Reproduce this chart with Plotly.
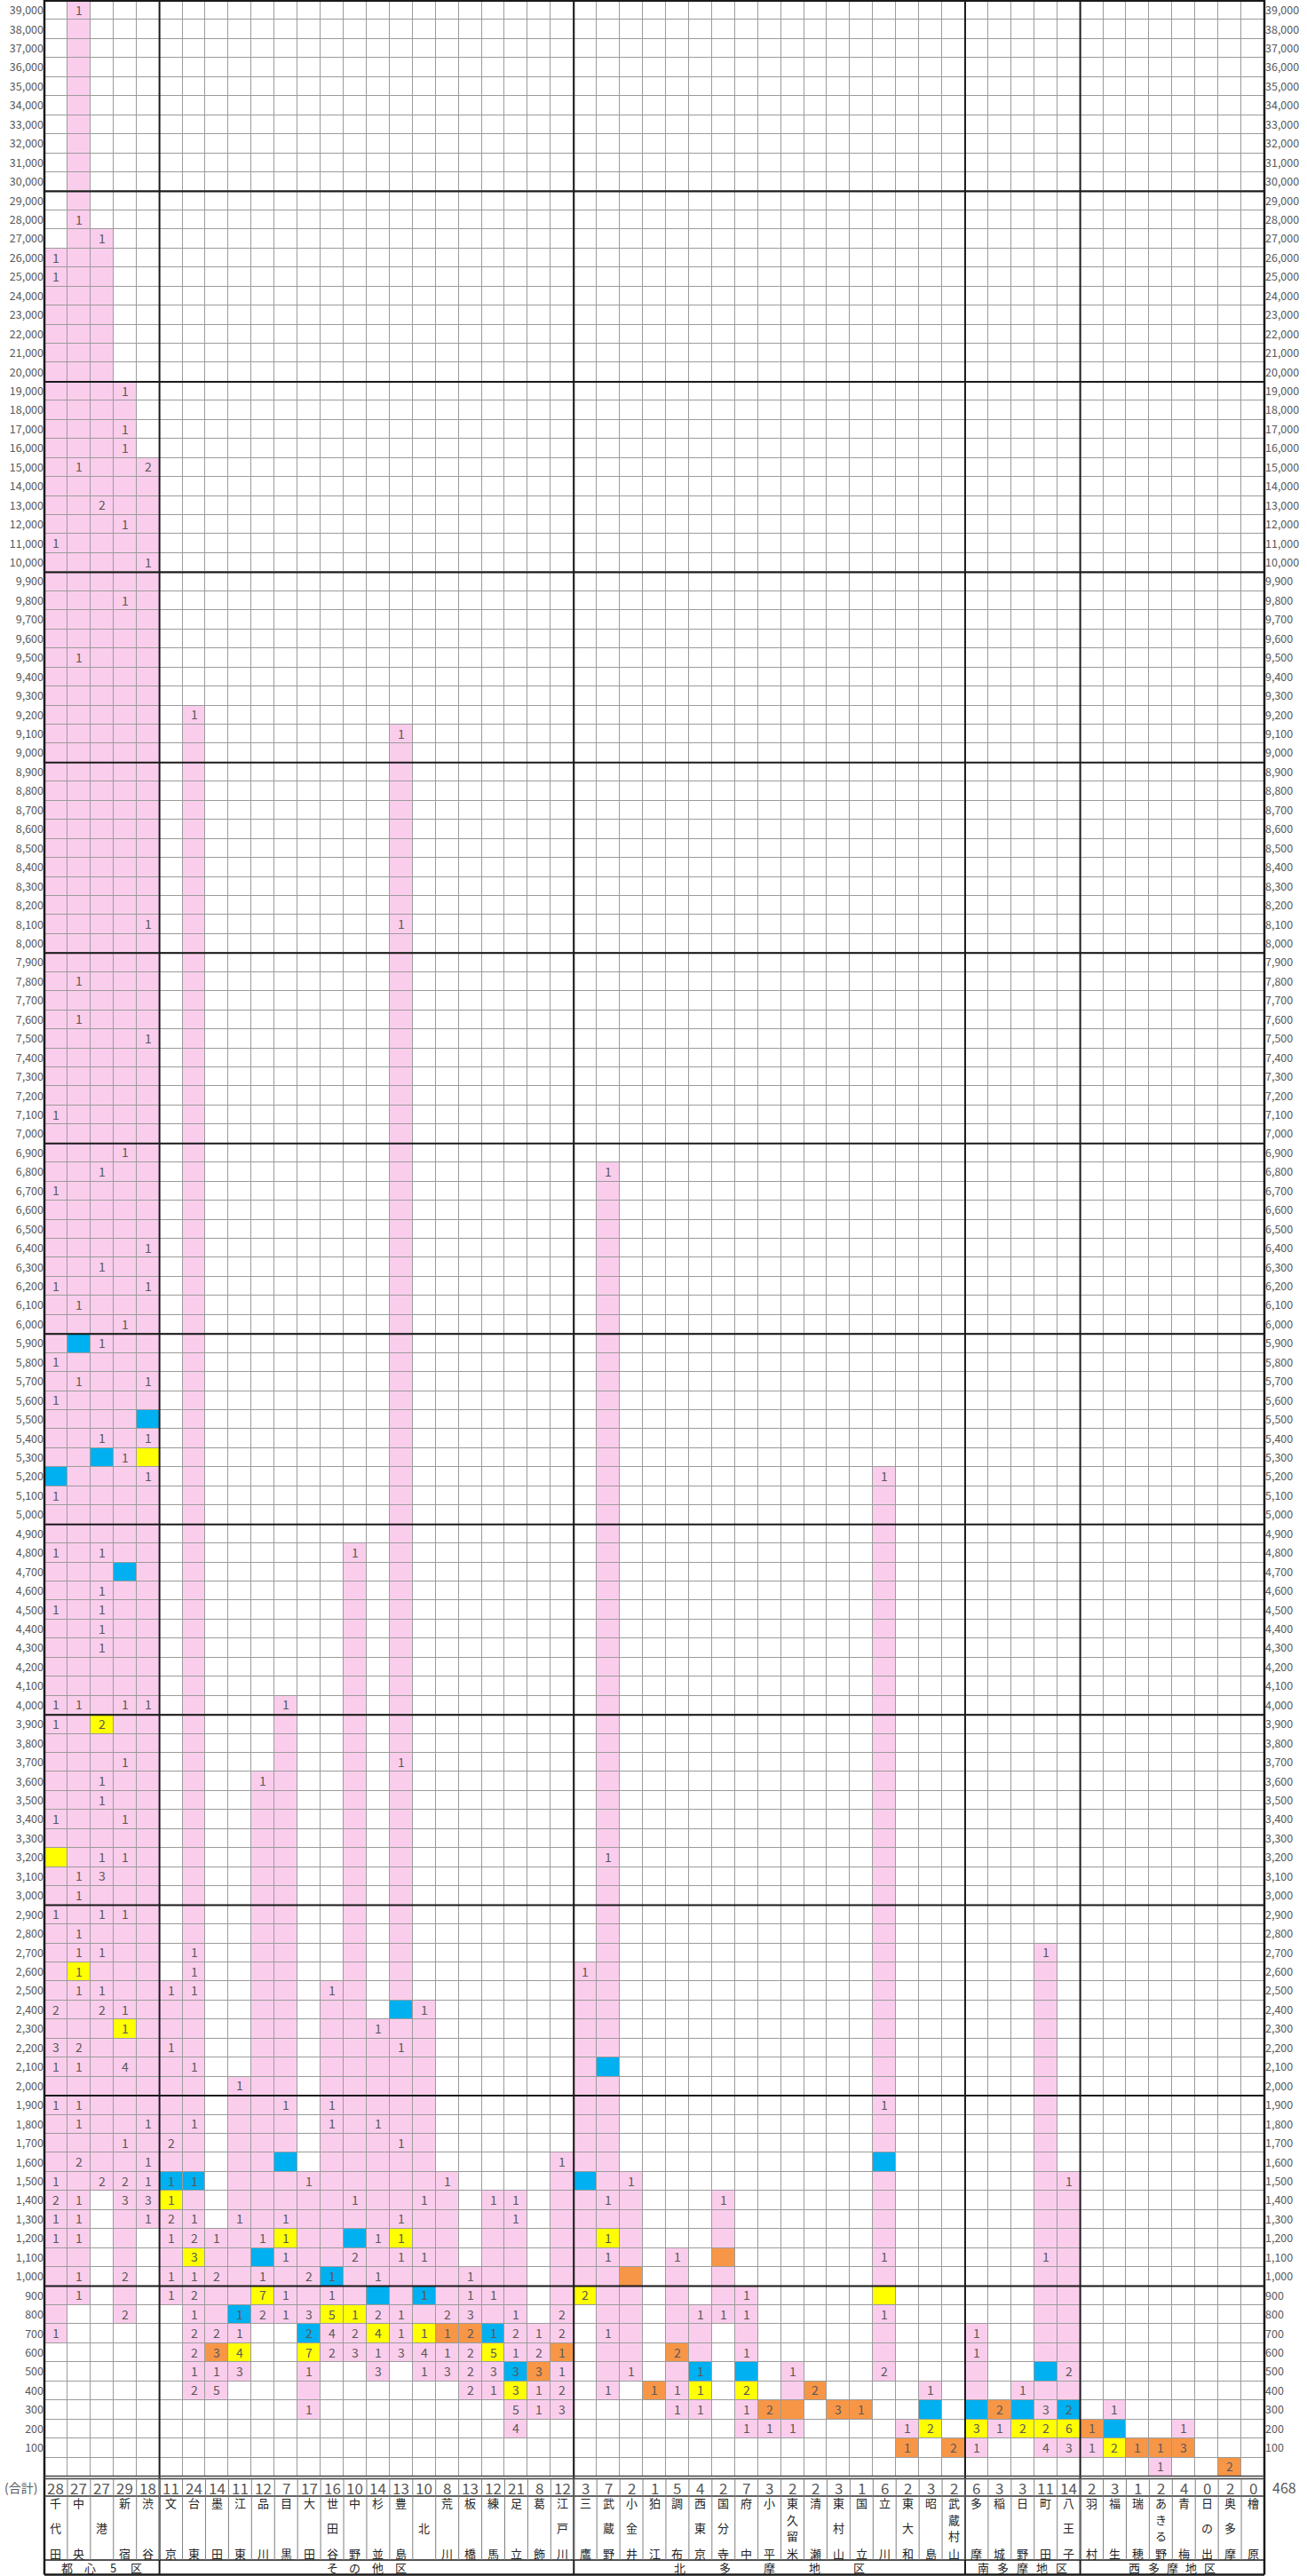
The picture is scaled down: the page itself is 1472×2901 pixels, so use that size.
import plotly.graph_objects as go

# ---------------- data ----------------
names = ["千代田", "中央", "港", "新宿", "渋谷", "文京", "台東", "墨田", "江東", "品川", "目黒",
         "大田", "世田谷", "中野", "杉並", "豊島", "北", "荒川", "板橋", "練馬", "足立", "葛飾",
         "江戸川", "三鷹", "武蔵野", "小金井", "狛江", "調布", "西東京", "国分寺", "府中", "小平",
         "東久留米", "清瀬", "東村山", "国立", "立川", "東大和", "昭島", "武蔵村山", "多摩", "稲城",
         "日野", "町田", "八王子", "羽村", "福生", "瑞穂", "あきる野", "青梅", "日の出", "奥多摩", "檜原"]

groups = [("都心5区", 0, 4), ("その他区", 5, 22), ("北多摩地区", 23, 39),
          ("南多摩地区", 40, 44), ("西多摩地区", 45, 52)]

# row categories (bottom to top); 0 = unlabeled bottom row
buckets = [0] + list(range(100, 10000, 100)) + list(range(10000, 40000, 1000))

# counts per municipality: {bucket: count}
counts = [
    {26000: 1, 25000: 1, 11000: 1, 7100: 1, 6700: 1, 6200: 1, 5800: 1, 5600: 1, 5100: 1, 4800: 1,
     4500: 1, 4000: 1, 3900: 1, 3400: 1, 2900: 1, 2400: 2, 2200: 3, 2100: 1, 1900: 1, 1500: 1,
     1400: 2, 1300: 1, 1200: 1, 700: 1},                                   # 千代田
    {39000: 1, 28000: 1, 15000: 1, 9500: 1, 7800: 1, 7600: 1, 6100: 1, 5700: 1, 4000: 1, 3100: 1,
     3000: 1, 2800: 1, 2700: 1, 2600: 1, 2500: 1, 2200: 2, 2100: 1, 1900: 1, 1800: 1, 1600: 2,
     1400: 1, 1300: 1, 1200: 1, 1000: 1, 900: 1},                          # 中央
    {27000: 1, 13000: 2, 6800: 1, 6300: 1, 5900: 1, 5400: 1, 4800: 1, 4600: 1, 4500: 1, 4400: 1,
     4300: 1, 3900: 2, 3600: 1, 3500: 1, 3200: 1, 3100: 3, 2900: 1, 2700: 1, 2500: 1, 2400: 2,
     1500: 2},                                                              # 港
    {19000: 1, 17000: 1, 16000: 1, 12000: 1, 9800: 1, 6900: 1, 6000: 1, 5300: 1, 4000: 1, 3700: 1,
     3400: 1, 3200: 1, 2900: 1, 2400: 1, 2300: 1, 2100: 4, 1700: 1, 1500: 2, 1400: 3, 1000: 2,
     800: 2},                                                               # 新宿
    {15000: 2, 10000: 1, 8100: 1, 7500: 1, 6400: 1, 6200: 1, 5700: 1, 5400: 1, 5200: 1, 4000: 1,
     1800: 1, 1600: 1, 1500: 1, 1400: 3, 1300: 1},                          # 渋谷
    {2500: 1, 2200: 1, 1700: 2, 1500: 1, 1400: 1, 1300: 2, 1200: 1, 1000: 1, 900: 1},  # 文京
    {9200: 1, 2700: 1, 2600: 1, 2500: 1, 2100: 1, 1800: 1, 1500: 1, 1300: 1, 1200: 2, 1100: 3,
     1000: 1, 900: 2, 800: 1, 700: 2, 600: 2, 500: 1, 400: 2},              # 台東
    {1200: 1, 1000: 2, 700: 2, 600: 3, 500: 1, 400: 5},                     # 墨田
    {2000: 1, 1300: 1, 800: 1, 700: 1, 600: 4, 500: 3},                     # 江東
    {3600: 1, 1200: 1, 1000: 1, 900: 7, 800: 2},                            # 品川
    {4000: 1, 1900: 1, 1300: 1, 1200: 1, 1100: 1, 900: 1, 800: 1},          # 目黒
    {1500: 1, 1000: 2, 800: 3, 700: 2, 600: 7, 500: 1, 300: 1},             # 大田
    {2500: 1, 1900: 1, 1800: 1, 1000: 1, 900: 1, 800: 5, 700: 4, 600: 2},   # 世田谷
    {4800: 1, 1400: 1, 1100: 2, 800: 1, 700: 2, 600: 3},                    # 中野
    {2300: 1, 1800: 1, 1200: 1, 1000: 1, 800: 2, 700: 4, 600: 1, 500: 3},   # 杉並
    {9100: 1, 8100: 1, 3700: 1, 2200: 1, 1700: 1, 1300: 1, 1200: 1, 1100: 1, 800: 1, 700: 1,
     600: 3},                                                               # 豊島
    {2400: 1, 1400: 1, 1100: 1, 900: 1, 700: 1, 600: 4, 500: 1},            # 北
    {1500: 1, 800: 2, 700: 1, 600: 1, 500: 3},                              # 荒川
    {1000: 1, 900: 1, 800: 3, 700: 2, 600: 2, 500: 2, 400: 2},              # 板橋
    {1400: 1, 900: 1, 700: 1, 600: 5, 500: 3, 400: 1},                      # 練馬
    {1400: 1, 1300: 1, 800: 1, 700: 2, 600: 1, 500: 3, 400: 3, 300: 5, 200: 4},  # 足立
    {700: 1, 600: 2, 500: 3, 400: 1, 300: 1},                               # 葛飾
    {1600: 1, 800: 2, 700: 2, 600: 1, 500: 1, 400: 2, 300: 3},              # 江戸川
    {2600: 1, 900: 2},                                                      # 三鷹
    {6800: 1, 3200: 1, 1400: 1, 1200: 1, 1100: 1, 700: 1, 400: 1},          # 武蔵野
    {1500: 1, 500: 1},                                                      # 小金井
    {400: 1},                                                               # 狛江
    {1100: 1, 600: 2, 400: 1, 300: 1},                                      # 調布
    {800: 1, 500: 1, 400: 1, 300: 1},                                       # 西東京
    {1400: 1, 800: 1},                                                      # 国分寺
    {900: 1, 800: 1, 600: 1, 400: 2, 300: 1, 200: 1},                       # 府中
    {300: 2, 200: 1},                                                       # 小平
    {500: 1, 200: 1},                                                       # 東久留米
    {400: 2},                                                               # 清瀬
    {300: 3},                                                               # 東村山
    {300: 1},                                                               # 国立
    {5200: 1, 1900: 1, 1100: 1, 800: 1, 500: 2},                            # 立川
    {200: 1, 100: 1},                                                       # 東大和
    {400: 1, 200: 2},                                                       # 昭島
    {100: 2},                                                               # 武蔵村山
    {700: 1, 600: 1, 200: 3, 100: 1},                                       # 多摩
    {300: 2, 200: 1},                                                       # 稲城
    {400: 1, 200: 2},                                                       # 日野
    {2700: 1, 1100: 1, 300: 3, 200: 2, 100: 4},                             # 町田
    {1500: 1, 500: 2, 300: 2, 200: 6, 100: 3},                              # 八王子
    {200: 1, 100: 1},                                                       # 羽村
    {300: 1, 100: 2},                                                       # 福生
    {100: 1},                                                               # 瑞穂
    {100: 1, 0: 1},                                                         # あきる野
    {200: 1, 100: 3},                                                       # 青梅
    {},                                                                     # 日の出
    {0: 2},                                                                 # 奥多摩
    {},                                                                     # 檜原
]

# bucket of the mean (blue) and of the median (yellow); orange where they coincide
mean_bucket = [5200, 5900, 5300, 4700, 5500, 1500, 1500, 600, 800, 1100, 1600, 700, 1000, 1200,
               900, 2400, 900, 700, 700, 700, 500, 500, 600, 1500, 2100, 1000, 400, 600, 500,
               1100, 500, 300, 300, 400, 300, 300, 1600, 100, 300, 100, 300, 300, 300, 500, 300,
               200, 200, 100, 100, 100, None, 0, None]
median_bucket = [3200, 2600, 3900, 2300, 5300, 1400, 1100, 600, 600, 900, 1200, 600, 800, 800,
                 700, 1200, 700, 700, 700, 600, 400, 500, 600, 900, 1200, 1000, 400, 600, 400,
                 1100, 400, 300, 300, 400, 300, 300, 900, 100, 200, 100, 200, 300, 200, 200, 200,
                 200, 100, 100, 100, 100, None, 0, None]

# ---------------- build grid ----------------
ncol = len(names)
nrow = len(buckets)
ridx = {b: i for i, b in enumerate(buckets)}
z = [[0] * ncol for _ in range(nrow)]
txt = [[""] * ncol for _ in range(nrow)]
for c, d in enumerate(counts):
    if d:
        lo, hi = ridx[min(d)], ridx[max(d)]
        for r in range(lo, hi + 1):
            z[r][c] = 1
        for b, n in d.items():
            txt[ridx[b]][c] = str(n)
    m, md = mean_bucket[c], median_bucket[c]
    if m is not None:
        if m == md:
            z[ridx[m]][c] = 4
        else:
            z[ridx[m]][c] = 2
            z[ridx[md]][c] = 3

totals = [sum(d.values()) for d in counts]
grand_total = sum(totals)
row_labels = ["" if b == 0 else f"{b:,}" for b in buckets]

WHITE, PINK, BLUE, YELLOW, ORANGE = "#ffffff", "#fbcdec", "#00b0f0", "#ffff00", "#f79646"
colorscale = [[0.0, WHITE], [0.2, WHITE], [0.2, PINK], [0.4, PINK], [0.4, BLUE], [0.6, BLUE],
              [0.6, YELLOW], [0.8, YELLOW], [0.8, ORANGE], [1.0, ORANGE]]

FONT = "Noto Sans CJK JP, Noto Sans, sans-serif"
GRAY = "#595959"

# ---------------- geometry (pixels) ----------------
W, H = 1472, 2901
ML, MR, MT = 50, 48, 1
PLOT_BOTTOM = 2789
MB = H - PLOT_BOTTOM
PH = PLOT_BOTTOM - MT
PW = W - ML - MR


def py(p):
    return (PLOT_BOTTOM - p) / PH


def pxp(p):
    return (p - ML) / PW


def xc(c):
    return (c + 0.5) / ncol


def note(x, y, text, size, color):
    return dict(x=x, y=y, xref="paper", yref="paper", text=text, showarrow=False,
                xanchor="center", yanchor="middle",
                font=dict(family=FONT, size=size, color=color))


fig = go.Figure()
fig.add_trace(go.Heatmap(
    z=z, x=list(range(ncol)), y=list(range(nrow)), text=txt, texttemplate="%{text}",
    textfont=dict(family=FONT, size=14, color=GRAY),
    colorscale=colorscale, zmin=-0.5, zmax=4.5, showscale=False,
    xgap=1, ygap=1, hoverinfo="skip"))
# invisible trace to carry the right-hand axis
fig.add_trace(go.Scatter(x=[0] * nrow, y=list(range(nrow)), yaxis="y2", mode="markers",
                         marker=dict(opacity=0, size=1), hoverinfo="skip", showlegend=False))

shapes = []
BLACK = "#1a1a1a"
bottom_all = py(2899.5)
# group separators (vertical)
for _, a, b in groups[:-1]:
    shapes.append(dict(type="line", xref="x", yref="paper", x0=b + 0.5, x1=b + 0.5,
                       y0=bottom_all, y1=1, line=dict(color=BLACK, width=2)))
# outer borders
for xv in (0, 1):
    shapes.append(dict(type="line", xref="paper", yref="paper", x0=xv, x1=xv,
                       y0=bottom_all, y1=1 + MT / PH, line=dict(color=BLACK, width=2.5)))
shapes.append(dict(type="line", xref="paper", yref="paper", x0=0, x1=1, y0=1, y1=1,
                   line=dict(color=BLACK, width=2)))
# thick horizontal lines at each thousand / ten-thousand boundary
for i in range(1, nrow):
    b1 = buckets[i]
    if b1 >= 1000 and (b1 % 1000 == 0) and (b1 < 10000 or b1 % 10000 == 0):
        shapes.append(dict(type="line", xref="paper", yref="y", x0=0, x1=1,
                           y0=i - 0.5, y1=i - 0.5, line=dict(color=BLACK, width=2)))
# bottom double line of grid
for p in (2788.5, 2791.5):
    shapes.append(dict(type="line", xref="paper", yref="paper", x0=0, x1=1, y0=py(p),
                       y1=py(p), line=dict(color="#444444", width=1.5)))
# under totals row
shapes.append(dict(type="line", xref="paper", yref="paper", x0=0, x1=1, y0=py(2811),
                   y1=py(2811), line=dict(color="#333333", width=1.5)))
# above group label row
shapes.append(dict(type="line", xref="paper", yref="paper", x0=0, x1=1, y0=py(2883),
                   y1=py(2883), line=dict(color=BLACK, width=1.5)))
# bottom border
shapes.append(dict(type="line", xref="paper", yref="paper", x0=0, x1=1, y0=py(2899.5),
                   y1=py(2899.5), line=dict(color=BLACK, width=2.5)))
# thin vertical separators in totals and name rows
for c in range(1, ncol):
    shapes.append(dict(type="line", xref="paper", yref="paper", x0=c / ncol, x1=c / ncol,
                       y0=py(2883), y1=py(2791.5), line=dict(color="#7f7f7f", width=1)))

annotations = []
# totals row
for c, t in enumerate(totals):
    annotations.append(note(xc(c), py(2801), str(t), 17, GRAY))
annotations.append(note(pxp(24), py(2801), "(合計)", 14, GRAY))
annotations.append(note(pxp(1447), py(2801), str(grand_total), 16, GRAY))
# vertical municipality names
TOP_Y, BOT_Y = 2818, 2875
for c, nm in enumerate(names):
    n = len(nm)
    for k, ch in enumerate(nm):
        yy = (TOP_Y + BOT_Y) / 2 if n == 1 else TOP_Y + (BOT_Y - TOP_Y) * k / (n - 1)
        annotations.append(note(xc(c), py(yy), ch, 13, "#1f1f1f"))
# group names
spacing = {"都心5区": 1.0, "その他区": 1.0, "北多摩地区": 1.95, "南多摩地区": 0.85, "西多摩地区": 0.82}
for g, a, b in groups:
    mid = (a + b) / 2
    n = len(g)
    for k, ch in enumerate(g):
        xv = mid + (k - (n - 1) / 2) * spacing[g]
        annotations.append(note(xc(xv), py(2891.5), ch, 13, "#1f1f1f"))

axis_common = dict(range=[-0.5, nrow - 0.5], tickvals=list(range(nrow)), ticktext=row_labels,
                   showgrid=False, zeroline=False, ticks="", showline=False,
                   tickfont=dict(family=FONT, size=12.5, color=GRAY), fixedrange=True)

fig.update_layout(
    width=W, height=H,
    margin=dict(l=ML, r=MR, t=MT, b=MB, pad=0),
    paper_bgcolor="white", plot_bgcolor="#9b9b9b",
    xaxis=dict(range=[-0.5, ncol - 0.5], showticklabels=False, showgrid=False,
               zeroline=False, ticks="", fixedrange=True),
    yaxis=dict(side="left", **axis_common),
    yaxis2=dict(side="right", overlaying="y", **axis_common),
    shapes=shapes, annotations=annotations, showlegend=False,
)

fig.write_html("out.html", include_plotlyjs=True, full_html=True,
               config={"displayModeBar": False, "staticPlot": True},
               post_script="document.body.style.margin='0';document.body.style.overflow='hidden';")
